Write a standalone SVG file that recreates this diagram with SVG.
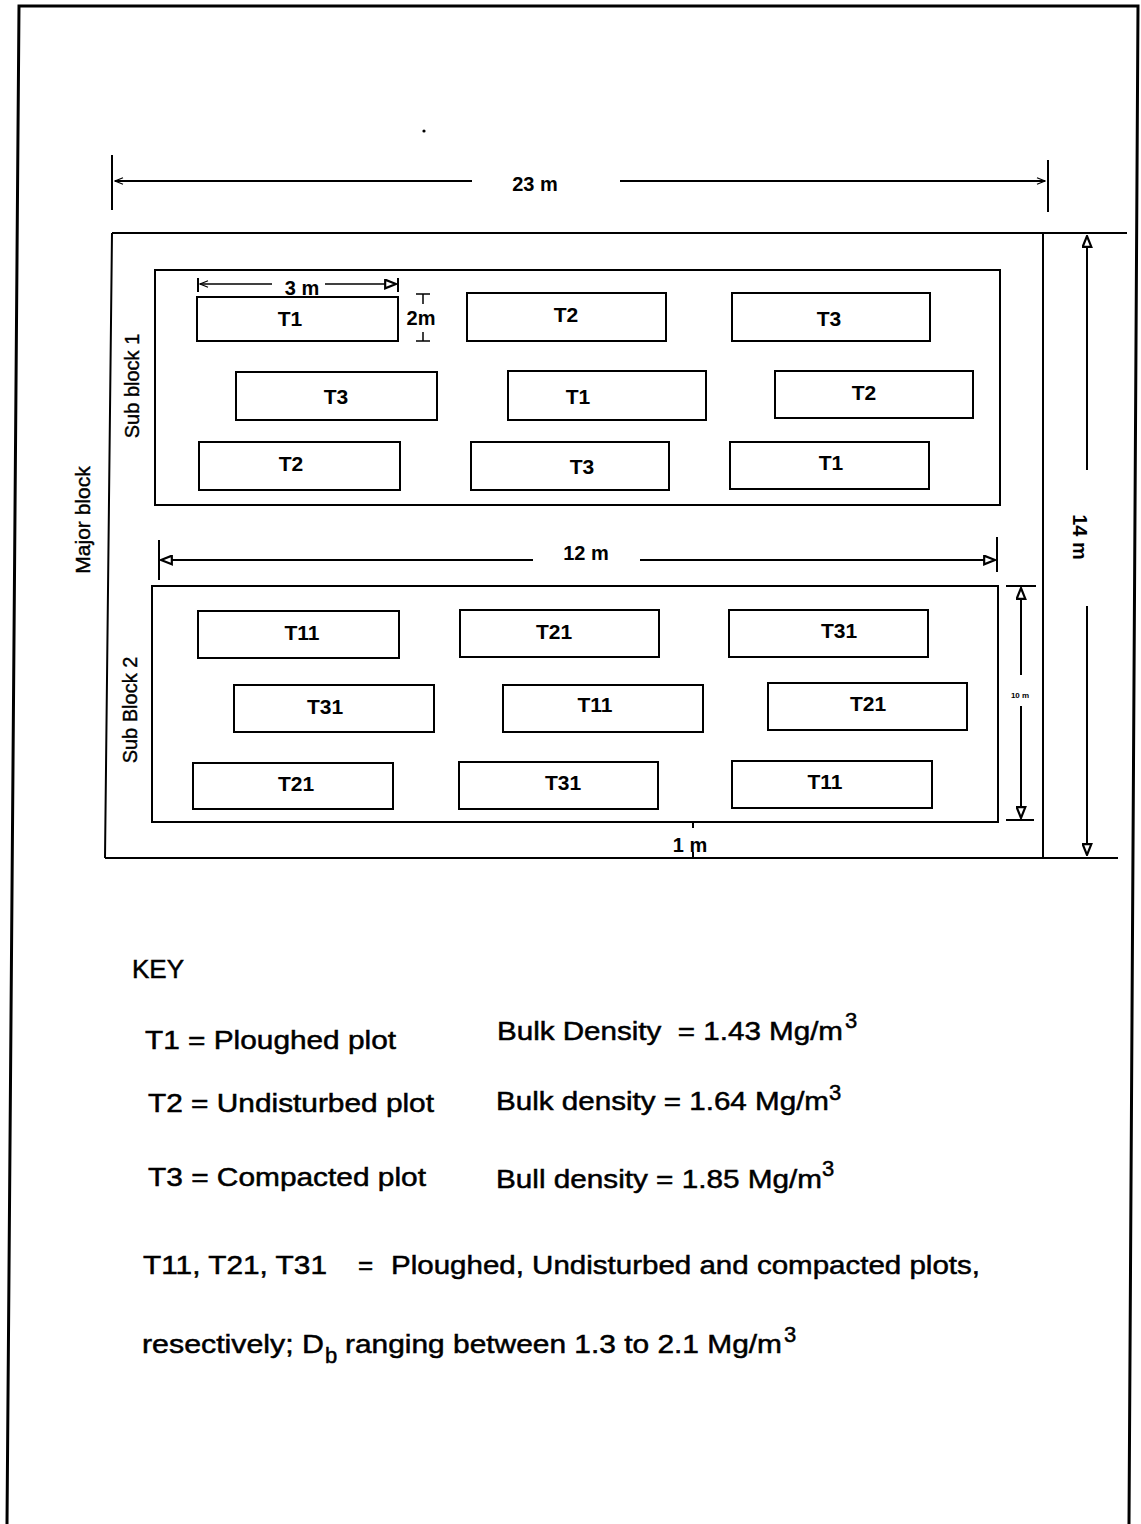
<svg xmlns="http://www.w3.org/2000/svg" width="1141" height="1524" viewBox="0 0 1141 1524">
<style>
.ln{stroke:#000;stroke-width:2;fill:none}
.box{stroke:#000;stroke-width:2;fill:#fff}
.pl{font-family:"Liberation Sans",Arial,sans-serif;font-weight:bold;font-size:21px;text-anchor:middle;fill:#000}
.lab{font-family:"Liberation Sans",Arial,sans-serif;font-size:20px;fill:#000;stroke:#000;stroke-width:0.4}
.key{font-family:"Liberation Sans",Arial,sans-serif;font-size:26px;fill:#000;stroke:#000;stroke-width:0.5}
.sup{font-size:22px}
</style>
<defs>
<marker id="tri" viewBox="0 0 12 10" refX="11" refY="5" markerWidth="13" markerHeight="11" markerUnits="userSpaceOnUse" orient="auto-start-reverse">
<path d="M1,1 L11,5 L1,9 Z" fill="#fff" stroke="#000" stroke-width="2"/>
</marker>
<marker id="sm" viewBox="0 0 12 10" refX="11" refY="5" markerWidth="10" markerHeight="8" markerUnits="userSpaceOnUse" orient="auto-start-reverse">
<path d="M1,1 L11,5 L1,9" fill="none" stroke="#000" stroke-width="1.5"/>
</marker>
</defs>
<rect width="1141" height="1524" fill="#fff"/>
<g id="page-border">
<polyline class="ln" points="7,1524 19,6 1138,6 1129,1524" style="stroke-width:3"/>
</g>
<circle cx="424" cy="131" r="1.6" fill="#000"/>
<g id="major-block">
<path class="ln" d="M112,233 L1127,233 M112,233 L105,858 M105,858 L1118,858 M1043,233 L1043,858"/>
<text class="lab" transform="translate(90,520) rotate(-90)" text-anchor="middle" style="font-size:21px">Major block</text>
</g>
<g id="sub-block-1">
<rect class="box" x="155" y="270" width="845" height="235"/>
<text class="lab" transform="translate(139,386) rotate(-90)" text-anchor="middle">Sub block 1</text>
</g>
<g id="sub-block-2">
<rect class="box" x="152" y="586" width="846" height="236"/>
<text class="lab" transform="translate(137,710) rotate(-90)" text-anchor="middle">Sub Block 2</text>
</g>
<g id="plots-1">
<g id="p1-T1a"><rect class="box" x="197" y="297" width="201" height="44"/><text class="pl" x="290" y="326">T1</text></g>
<g id="p1-T2a"><rect class="box" x="467" y="293" width="199" height="48"/><text class="pl" x="566" y="322">T2</text></g>
<g id="p1-T3a"><rect class="box" x="732" y="293" width="198" height="48"/><text class="pl" x="829" y="326">T3</text></g>
<g id="p1-T3b"><rect class="box" x="236" y="372" width="201" height="48"/><text class="pl" x="336" y="404">T3</text></g>
<g id="p1-T1b"><rect class="box" x="508" y="371" width="198" height="49"/><text class="pl" x="578" y="404">T1</text></g>
<g id="p1-T2b"><rect class="box" x="775" y="371" width="198" height="47"/><text class="pl" x="864" y="400">T2</text></g>
<g id="p1-T2c"><rect class="box" x="199" y="442" width="201" height="48"/><text class="pl" x="291" y="471">T2</text></g>
<g id="p1-T3c"><rect class="box" x="471" y="442" width="198" height="48"/><text class="pl" x="582" y="474">T3</text></g>
<g id="p1-T1c"><rect class="box" x="730" y="442" width="199" height="47"/><text class="pl" x="831" y="470">T1</text></g>
</g>
<g id="plots-2">
<g id="p2-T11a"><rect class="box" x="198" y="611" width="201" height="47"/><text class="pl" x="302" y="640">T11</text></g>
<g id="p2-T21a"><rect class="box" x="460" y="610" width="199" height="47"/><text class="pl" x="554" y="639">T21</text></g>
<g id="p2-T31a"><rect class="box" x="729" y="610" width="199" height="47"/><text class="pl" x="839" y="638">T31</text></g>
<g id="p2-T31b"><rect class="box" x="234" y="685" width="200" height="47"/><text class="pl" x="325" y="714">T31</text></g>
<g id="p2-T11b"><rect class="box" x="503" y="685" width="200" height="47"/><text class="pl" x="595" y="712">T11</text></g>
<g id="p2-T21b"><rect class="box" x="768" y="683" width="199" height="47"/><text class="pl" x="868" y="711">T21</text></g>
<g id="p2-T21c"><rect class="box" x="193" y="763" width="200" height="46"/><text class="pl" x="296" y="791">T21</text></g>
<g id="p2-T31c"><rect class="box" x="459" y="762" width="199" height="47"/><text class="pl" x="563" y="790">T31</text></g>
<g id="p2-T11c"><rect class="box" x="732" y="761" width="200" height="47"/><text class="pl" x="825" y="789">T11</text></g>
</g>
<g id="connectors">
<path class="ln" d="M112,155 L112,210 M1048,160 L1048,212"/>
<line class="ln" x1="472" y1="181" x2="115" y2="181" marker-end="url(#sm)"/>
<line class="ln" x1="620" y1="181" x2="1045" y2="181" marker-end="url(#sm)"/>
<text class="pl" x="535" y="191" style="font-size:20px">23  m</text>
<line class="ln" x1="1087" y1="470" x2="1087" y2="236" marker-end="url(#tri)"/>
<line class="ln" x1="1087" y1="606" x2="1087" y2="855" marker-end="url(#tri)"/>
<text class="pl" transform="translate(1073,537) rotate(90)" style="font-size:20px">14 m</text>
<path class="ln" d="M198,278 L198,292 M398,278 L398,292"/>
<line class="ln" x1="272" y1="284" x2="200" y2="284" marker-end="url(#sm)" style="stroke-width:1.5"/>
<line class="ln" x1="325" y1="284" x2="396" y2="284" marker-end="url(#tri)" style="stroke-width:1.5"/>
<text class="pl" x="302" y="295" style="font-size:20px">3 m</text>
<path class="ln" d="M416,294 L430,294 M423,294 L423,304 M423,332 L423,341 M416,341 L430,341" style="stroke-width:1.5"/>
<text class="pl" x="421" y="325" style="font-size:20px">2m</text>
<path class="ln" d="M159,540 L159,580 M997,537 L997,572"/>
<line class="ln" x1="533" y1="560" x2="161" y2="560" marker-end="url(#tri)"/>
<line class="ln" x1="640" y1="560" x2="995" y2="560" marker-end="url(#tri)"/>
<text class="pl" x="586" y="560" style="font-size:20px">12 m</text>
<path class="ln" d="M1006,586 L1036,586 M1006,820 L1034,820"/>
<line class="ln" x1="1021" y1="675" x2="1021" y2="588" marker-end="url(#tri)"/>
<line class="ln" x1="1021" y1="706" x2="1021" y2="818" marker-end="url(#tri)"/>
<text class="pl" x="1020" y="698" style="font-size:8px">10 m</text>
<path class="ln" d="M693,823 L693,828 M693,852 L693,858" style="stroke-width:2"/>
<text class="pl" x="690" y="852" style="font-size:20px">1 m</text>
</g>
<g id="key">
<text class="key" x="132" y="978">KEY</text>
<text class="key" x="145" y="1049" textLength="251" lengthAdjust="spacingAndGlyphs">T1 = Ploughed plot</text>
<text class="key" x="497" y="1040" textLength="346" lengthAdjust="spacingAndGlyphs" xml:space="preserve">Bulk Density  = 1.43 Mg/m</text>
<text class="key sup" x="845" y="1028">3</text>
<text class="key" x="148" y="1112" textLength="286" lengthAdjust="spacingAndGlyphs">T2 = Undisturbed plot</text>
<text class="key" x="496" y="1110" textLength="333" lengthAdjust="spacingAndGlyphs">Bulk density = 1.64 Mg/m</text>
<text class="key sup" x="829" y="1100">3</text>
<text class="key" x="148" y="1186" textLength="278" lengthAdjust="spacingAndGlyphs">T3 = Compacted plot</text>
<text class="key" x="496" y="1188" textLength="326" lengthAdjust="spacingAndGlyphs">Bull density = 1.85 Mg/m</text>
<text class="key sup" x="822" y="1176">3</text>
<text class="key" x="143" y="1274" textLength="184" lengthAdjust="spacingAndGlyphs">T11, T21, T31</text>
<text class="key" x="358" y="1274">=</text>
<text class="key" x="391" y="1274" textLength="589" lengthAdjust="spacingAndGlyphs">Ploughed, Undisturbed and compacted plots,</text>
<text class="key" x="142" y="1353" textLength="182" lengthAdjust="spacingAndGlyphs">resectively; D</text>
<text class="key sup" x="325" y="1363">b</text>
<text class="key" x="345" y="1353" textLength="437" lengthAdjust="spacingAndGlyphs">ranging between 1.3 to 2.1 Mg/m</text>
<text class="key sup" x="784" y="1342">3</text>
</g>
</svg>
